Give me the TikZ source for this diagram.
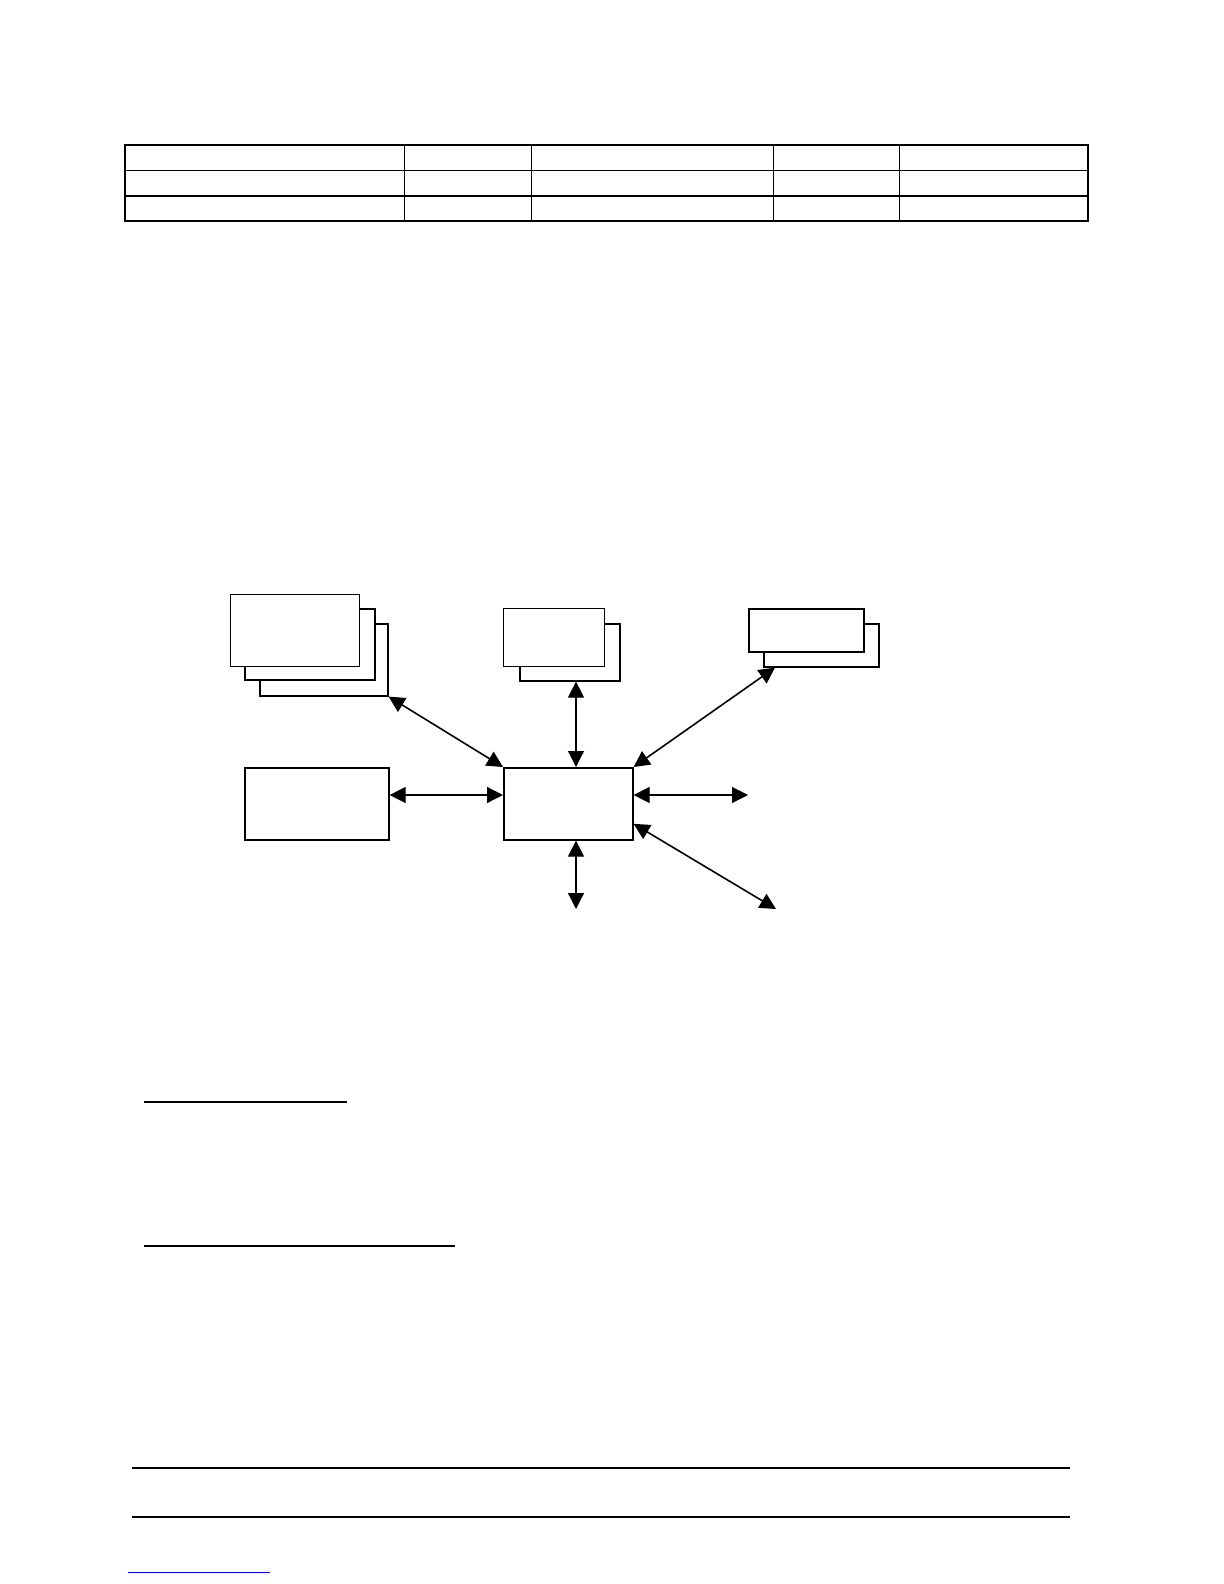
\documentclass[tikz,border=0pt]{standalone}
\usetikzlibrary{arrows.meta,calc}

\tikzset{
  box/.style={draw,fill=white,line width=.8pt,inner sep=0pt,anchor=north west},
  frontbox/.style={box,line width=.6pt},
  arr/.style={{Triangle[length=8pt,width=8pt]}-{Triangle[length=8pt,width=8pt]},line width=.6pt},
}

\begin{document}
\begin{tikzpicture}[x=.5pt,y=-.5pt]
	\useasboundingbox (0,0) rectangle (1224,1584);
	% table
	\draw[line width=.6pt] (125,145) rectangle (1088,221);
	\draw[line width=1pt] (125,145) -- (1088,145);
	\draw[line width=.5pt] (125,170) -- (1088,170);
	\draw[line width=1pt] (125,196) -- (1088,196);
	\foreach \x in {404,531,773,899}
		\draw[line width=.5pt] (\x,145) -- (\x,221);
	% stacked boxes
	\node[box,minimum width=64pt,minimum height=36pt] (res3) at (259,623) {};
	\node[box,minimum width=65pt,minimum height=35.5pt] (res2) at (244,608) {};
	\node[frontbox,minimum width=64.5pt,minimum height=36pt] (res1) at (230,594) {};
	\node[box,minimum width=50pt,minimum height=28.5pt] (mid2) at (519,623) {};
	\node[frontbox,minimum width=50.5pt,minimum height=29pt] (mid1) at (503,608) {};
	\node[box,minimum width=57.5pt,minimum height=21.5pt] (out2) at (763,623) {};
	\node[box,minimum width=57.5pt,minimum height=21.5pt] (out1) at (748,608) {};
	\node[box,minimum width=72pt,minimum height=36pt] (left) at (244,767) {};
	\node[box,minimum width=64.5pt,minimum height=36pt] (hub) at (503,767) {};
	% free ends
	\coordinate (vx) at (576,0);
	\coordinate (hy) at (0,795);
	\coordinate (outend) at ($(out2.south west)+(12,0)$);
	\coordinate (eastend) at (748,795);
	\coordinate (southend) at (576,909);
	\coordinate (diagend) at (776,909);
	\draw[arr,line width=.8pt] (res3.south east) -- (hub.north west);
	\draw[arr] (mid2.south -| vx) -- (hub.north -| vx);
	\draw[arr,line width=.8pt] (hub.north east) -- (outend);
	\draw[arr] (left.east |- hy) -- (hub.west |- hy);
	\draw[arr] (hub.east |- hy) -- (eastend);
	\draw[arr,line width=.8pt] ($(hub.east)+(0,20)$) -- (diagend);
	\draw[arr] (hub.south -| vx) -- (southend);
	% rules
	\draw[line width=1pt] (144,1102) -- (347,1102);
	\draw[line width=1pt] (144,1246) -- (455,1246);
	\draw[line width=1pt] (132,1468) -- (1070,1468);
	\draw[line width=.6pt] (132,1517) -- (1070,1517);
	\draw[blue,line width=.5pt] (128,1572) -- (270,1572);
\end{tikzpicture}
\end{document}
